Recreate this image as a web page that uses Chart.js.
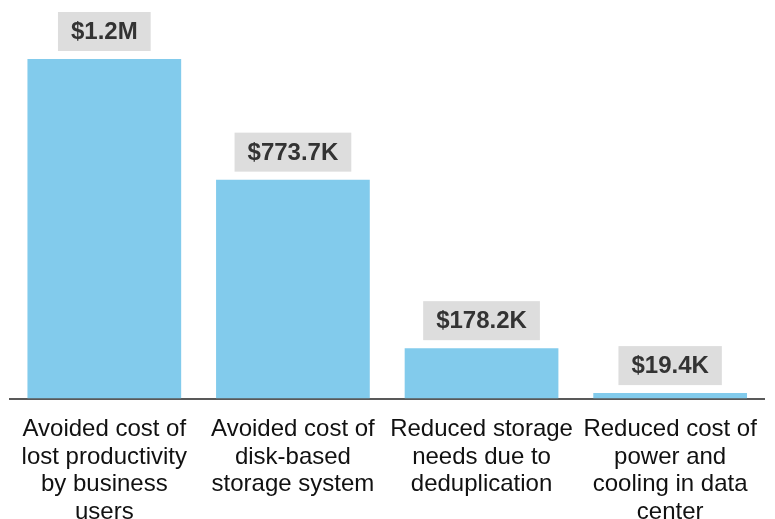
<!DOCTYPE html>
<html>
<head>
<meta charset="utf-8">
<script src="https://cdn.jsdelivr.net/npm/chart.js@4/dist/chart.umd.min.js"></script>
<style>
html,body{margin:0;padding:0;background:#fff;}
#wrap{width:775px;height:519px;position:relative;}
</style>
</head>
<body>
<div id="wrap"><canvas id="c"></canvas></div>
<script>
const categories = [
  ["Avoided cost of", "lost productivity", "by business", "users"],
  ["Avoided cost of", "disk-based", "storage system"],
  ["Reduced storage", "needs due to", "deduplication"],
  ["Reduced cost of", "power and", "cooling in data", "center"]
];
const values = [1200000, 773700, 178200, 19400];
const valueLabels = ["$1.2M", "$773.7K", "$178.2K", "$19.4K"];

const labelPlugin = {
  id: 'valueLabels',
  afterDatasetsDraw(chart) {
    const ctx = chart.ctx;
    const meta = chart.getDatasetMeta(0);
    ctx.save();
    ctx.font = 'bold 24px "Liberation Sans", Arial, sans-serif';
    ctx.textAlign = 'center';
    ctx.textBaseline = 'middle';
    meta.data.forEach((bar, i) => {
      const txt = valueLabels[i];
      const w = ctx.measureText(txt).width + 26;
      const h = 39;
      const x = bar.x;
      const bottom = bar.y - 8;
      ctx.fillStyle = '#DDDDDD';
      ctx.fillRect(x - w / 2, bottom - h, w, h);
      ctx.fillStyle = '#333333';
      ctx.fillText(txt, x, bottom - h / 2 + 1);
    });
    ctx.restore();
  }
};

new Chart(document.getElementById('c'), {
  type: 'bar',
  data: {
    labels: categories,
    datasets: [{
      data: values,
      backgroundColor: '#82CBEC',
      borderWidth: 0,
      barPercentage: 0.815,
      categoryPercentage: 1.0
    }]
  },
  options: {
    responsive: true,
    maintainAspectRatio: false,
    animation: false,
    layout: { padding: { top: 59, left: 10, right: 9, bottom: -24 } },
    plugins: { legend: { display: false }, tooltip: { enabled: false } },
    scales: {
      x: {
        grid: { display: false, drawTicks: false },
        border: { display: true, color: '#595959', width: 2 },
        ticks: {
          color: '#111111',
          font: { family: '"Liberation Sans", Arial, sans-serif', size: 24, lineHeight: 1.15 },
          padding: 17,
          maxRotation: 0,
          minRotation: 0,
          autoSkip: false
        }
      },
      y: {
        display: false,
        min: 0,
        max: 1200000
      }
    }
  },
  plugins: [labelPlugin]
});
</script>
</body>
</html>
